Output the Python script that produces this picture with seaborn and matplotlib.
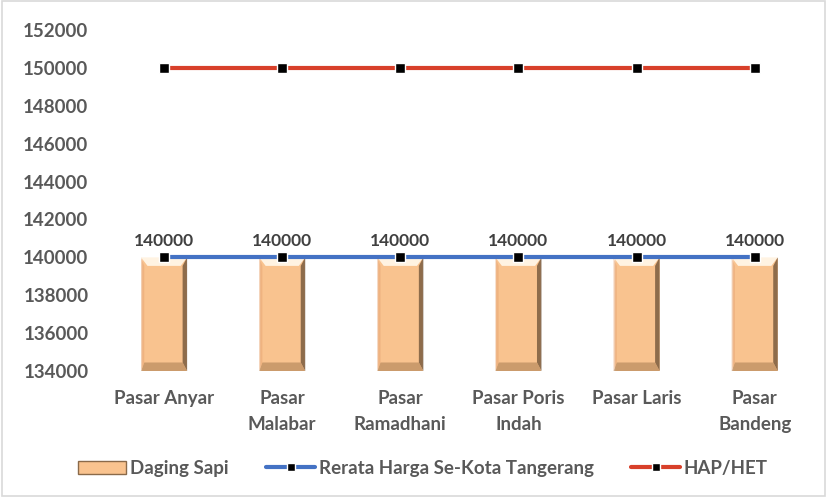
import numpy as np
import pandas as pd
import matplotlib
matplotlib.use("Agg")
import matplotlib.pyplot as plt
import seaborn as sns
from matplotlib.patches import Rectangle, Patch, Polygon
from matplotlib.lines import Line2D

markets = ["Pasar Anyar", "Pasar\nMalabar", "Pasar\nRamadhani", "Pasar Poris\nIndah",
           "Pasar Laris", "Pasar\nBandeng"]
daging_sapi = [140000, 140000, 140000, 140000, 140000, 140000]
rerata_kota = [140000, 140000, 140000, 140000, 140000, 140000]
hap_het = [150000, 150000, 150000, 150000, 150000, 150000]
y_ticks = [134000, 136000, 138000, 140000, 142000, 144000, 146000, 148000, 150000, 152000]

sns.set_theme(style="white")
plt.rcParams["font.family"] = ["Lato", "DejaVu Sans"]

text_col = "#595959"
bar_col = "#F9C38F"
blue = "#4472C4"
red = "#D8402A"

fig = plt.figure(figsize=(8.27, 4.97), dpi=100)
ax = fig.add_axes([0.127, 0.2535, 0.857, 0.686])

df = pd.DataFrame({"Pasar": markets, "Harga": daging_sapi})
sns.barplot(data=df, x="Pasar", y="Harga", color=bar_col, width=0.39,
            saturation=1, ax=ax, zorder=2)

# bevel shading on each bar
ymin = 134000
for p in list(ax.patches):
    x0, w = p.get_x(), p.get_width()
    top = p.get_height()
    b = w * 0.14
    h = 450
    # top highlight
    ax.add_patch(Polygon([(x0, top), (x0 + w, top), (x0 + w - b, top - h),
                          (x0 + b, top - h)], closed=True, color="#FFF3E2",
                         lw=0, zorder=3))
    # right dark edge
    ax.add_patch(Polygon([(x0 + w, top), (x0 + w, ymin), (x0 + w - b * 0.7, ymin + h),
                          (x0 + w - b * 0.7, top - h)], closed=True,
                         color="#6B4F35", alpha=0.75, lw=0, zorder=3))
    # bottom edge
    ax.add_patch(Polygon([(x0, ymin), (x0 + w, ymin), (x0 + w - b * 0.7, ymin + h),
                          (x0 + b * 0.5, ymin + h)], closed=True,
                         color="#B88A5E", alpha=0.7, lw=0, zorder=3))
    # left edge
    ax.add_patch(Polygon([(x0, top), (x0, ymin), (x0 + b * 0.5, ymin + h),
                          (x0 + b * 0.5, top - h)], closed=True,
                         color="#E9A977", alpha=0.6, lw=0, zorder=3))

pos = np.arange(len(markets))
ax.plot(pos, rerata_kota, color=blue, lw=3, marker="s", ms=7,
        mfc="black", mec="white", mew=1, zorder=4)
ax.plot(pos, hap_het, color=red, lw=3, marker="s", ms=7,
        mfc="black", mec="white", mew=1, zorder=4)

for i, v in enumerate(daging_sapi):
    ax.annotate(f"{v}", (pos[i], v), xytext=(0, 6), textcoords="offset points",
                ha="center", va="bottom", fontsize=12.5, fontweight="bold",
                color="#404040")

ax.set_ylim(134000, 152000)
ax.set_xlim(-0.5, len(markets) - 0.5)
ax.set_yticks(y_ticks)
ax.set_yticklabels([str(t) for t in y_ticks])
ax.set_xlabel("")
ax.set_ylabel("")
ax.tick_params(axis="both", length=0, labelsize=13.5, labelcolor=text_col)
ax.tick_params(axis="y", pad=12)
ax.tick_params(axis="x", pad=14)
for lab in ax.get_xticklabels() + ax.get_yticklabels():
    lab.set_fontweight("bold")
for lab in ax.get_xticklabels():
    lab.set_linespacing(1.6)
for s in ax.spines.values():
    s.set_visible(False)

handles = [
    Patch(facecolor=bar_col, edgecolor="#8A6A4A", lw=1),
    Line2D([0], [0], color=blue, lw=3, marker="s", ms=6, mfc="black", mec="white"),
    Line2D([0], [0], color=red, lw=3, marker="s", ms=6, mfc="black", mec="white"),
]
labels = ["Daging Sapi", "Rerata Harga Se-Kota Tangerang", "HAP/HET"]
leg = fig.legend(handles, labels, loc="center", bbox_to_anchor=(0.511, 0.058),
                 ncol=3, frameon=False, fontsize=13.5, handlelength=2.6,
                 handletextpad=0.2, columnspacing=2.0)
for t in leg.get_texts():
    t.set_color(text_col)
    t.set_fontweight("bold")

fig.patches.append(Rectangle((0.003, 0.003), 0.994, 0.994, transform=fig.transFigure,
                             fill=False, edgecolor="#D9D9D9", lw=1.2))

fig.savefig("out.png", dpi=100)
